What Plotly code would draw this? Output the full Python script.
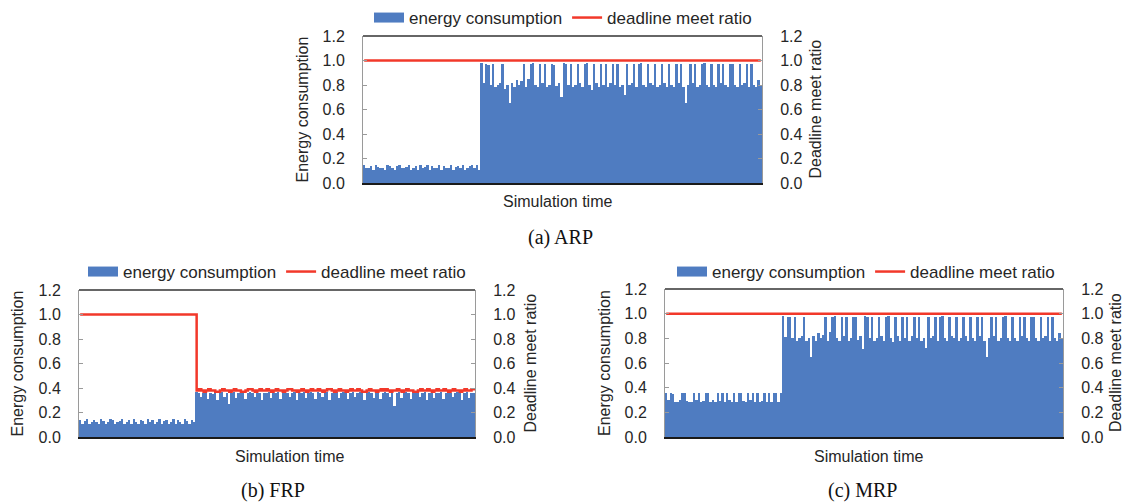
import plotly.graph_objects as go

# ---------------- data ----------------
arp_energy_low = [0.15, 0.12, 0.12, 0.14, 0.11, 0.15, 0.13, 0.12, 0.12, 0.11,
                  0.15, 0.14, 0.12, 0.11, 0.14, 0.15, 0.12, 0.12, 0.13, 0.15,
                  0.11, 0.12, 0.14, 0.11, 0.15, 0.12, 0.13, 0.15, 0.11, 0.14,
                  0.12, 0.12, 0.15, 0.11, 0.14, 0.12, 0.12, 0.15, 0.11, 0.13,
                  0.14, 0.12, 0.15, 0.11, 0.12, 0.14, 0.15, 0.12, 0.15, 0.11]
arp_energy_high = [0.98, 0.82, 0.97, 0.96, 0.80, 0.97, 0.78, 0.80, 0.82, 0.97,
                   0.77, 0.80, 0.65, 0.82, 0.78, 0.84, 0.80, 0.83, 0.97, 0.78,
                   0.85, 0.97, 0.98, 0.80, 0.78, 0.97, 0.82, 0.97, 0.78, 0.80,
                   0.97, 0.96, 0.79, 0.82, 0.70, 0.98, 0.97, 0.80, 0.97, 0.78,
                   0.80, 0.97, 0.82, 0.78, 0.97, 0.98, 0.80, 0.76, 0.97, 0.82,
                   0.78, 0.97, 0.80, 0.97, 0.78, 0.82, 0.97, 0.80, 0.97, 0.78,
                   0.80, 0.72, 0.97, 0.80, 0.82, 0.97, 0.78, 0.97, 0.98, 0.80,
                   0.78, 0.97, 0.82, 0.80, 0.97, 0.78, 0.80, 0.97, 0.82, 0.78,
                   0.97, 0.80, 0.78, 0.97, 0.82, 0.97, 0.78, 0.65, 0.80, 0.97,
                   0.82, 0.97, 0.78, 0.80, 0.97, 0.98, 0.80, 0.78, 0.97, 0.80,
                   0.78, 0.97, 0.82, 0.97, 0.80, 0.78, 0.97, 0.97, 0.80, 0.78,
                   0.97, 0.80, 0.82, 0.97, 0.78, 0.97, 0.80, 0.78, 0.84, 0.80]
arp_ratio = [1.0] * 170

frp_energy_low = [0.14, 0.11, 0.13, 0.15, 0.11, 0.12, 0.14, 0.12, 0.11, 0.15,
                  0.13, 0.11, 0.12, 0.15, 0.14, 0.11, 0.12, 0.13, 0.15, 0.11,
                  0.12, 0.14, 0.11, 0.15, 0.12, 0.11, 0.14, 0.13, 0.11, 0.15,
                  0.12, 0.14, 0.11, 0.12, 0.15, 0.11, 0.13, 0.14, 0.11, 0.12,
                  0.15, 0.11, 0.14, 0.12, 0.11, 0.15, 0.13, 0.11, 0.14, 0.12]
frp_energy_high = [0.37, 0.36, 0.33, 0.36, 0.37, 0.31, 0.36, 0.35, 0.37, 0.30,
                   0.36, 0.37, 0.33, 0.36, 0.27, 0.36, 0.37, 0.32, 0.36, 0.36,
                   0.37, 0.31, 0.36, 0.37, 0.36, 0.33, 0.37, 0.36, 0.30, 0.36,
                   0.36, 0.37, 0.32, 0.36, 0.36, 0.37, 0.31, 0.36, 0.37, 0.36,
                   0.33, 0.36, 0.37, 0.30, 0.36, 0.36, 0.37, 0.32, 0.36, 0.37,
                   0.36, 0.31, 0.37, 0.36, 0.33, 0.36, 0.37, 0.30, 0.36, 0.36,
                   0.37, 0.32, 0.36, 0.37, 0.36, 0.31, 0.36, 0.37, 0.33, 0.36,
                   0.37, 0.36, 0.30, 0.36, 0.37, 0.36, 0.32, 0.37, 0.36, 0.31,
                   0.36, 0.37, 0.36, 0.33, 0.36, 0.25, 0.36, 0.37, 0.32, 0.36,
                   0.37, 0.36, 0.31, 0.36, 0.37, 0.36, 0.33, 0.36, 0.37, 0.30,
                   0.36, 0.37, 0.32, 0.36, 0.36, 0.37, 0.31, 0.36, 0.37, 0.36,
                   0.33, 0.36, 0.37, 0.36, 0.30, 0.36, 0.37, 0.32, 0.36, 0.36]
frp_ratio_low = [1.0] * 50
frp_ratio_high = [0.38, 0.39, 0.38, 0.37, 0.38, 0.39, 0.38, 0.38, 0.37, 0.37,
                  0.38, 0.39, 0.38, 0.38, 0.37, 0.38, 0.39, 0.38, 0.38, 0.37,
                  0.37, 0.38, 0.39, 0.39, 0.38, 0.37, 0.38, 0.39, 0.38, 0.38,
                  0.39, 0.38, 0.37, 0.38, 0.39, 0.38, 0.38, 0.37, 0.38, 0.39,
                  0.39, 0.38, 0.38, 0.37, 0.38, 0.39, 0.38, 0.37, 0.38, 0.39,
                  0.38, 0.38, 0.39, 0.38, 0.37, 0.38, 0.39, 0.39, 0.38, 0.37,
                  0.38, 0.39, 0.38, 0.38, 0.37, 0.38, 0.39, 0.38, 0.38, 0.39,
                  0.38, 0.37, 0.37, 0.38, 0.39, 0.38, 0.38, 0.37, 0.38, 0.39,
                  0.38, 0.39, 0.38, 0.37, 0.38, 0.38, 0.39, 0.38, 0.37, 0.38,
                  0.39, 0.38, 0.38, 0.37, 0.37, 0.38, 0.39, 0.38, 0.38, 0.39,
                  0.38, 0.37, 0.38, 0.39, 0.38, 0.38, 0.39, 0.38, 0.37, 0.38,
                  0.39, 0.38, 0.38, 0.37, 0.38, 0.39, 0.38, 0.38, 0.39, 0.38]

mrp_energy_low = [0.36, 0.30, 0.36, 0.35, 0.28, 0.28, 0.30, 0.36, 0.36, 0.29,
                  0.28, 0.28, 0.36, 0.30, 0.36, 0.28, 0.29, 0.36, 0.36, 0.28,
                  0.30, 0.28, 0.36, 0.29, 0.36, 0.28, 0.36, 0.30, 0.28, 0.36,
                  0.28, 0.36, 0.36, 0.29, 0.28, 0.36, 0.30, 0.36, 0.28, 0.36,
                  0.28, 0.29, 0.36, 0.28, 0.36, 0.28, 0.36, 0.36, 0.28, 0.36]
mrp_energy_high = [0.98, 0.81, 0.97, 0.97, 0.80, 0.97, 0.78, 0.80, 0.82, 0.97,
                   0.78, 0.80, 0.65, 0.82, 0.78, 0.84, 0.80, 0.83, 0.97, 0.78,
                   0.85, 0.97, 0.98, 0.80, 0.78, 0.97, 0.82, 0.97, 0.78, 0.80,
                   0.97, 0.97, 0.79, 0.82, 0.71, 0.98, 0.97, 0.80, 0.97, 0.78,
                   0.80, 0.97, 0.82, 0.78, 0.97, 0.98, 0.80, 0.77, 0.97, 0.82,
                   0.78, 0.97, 0.80, 0.97, 0.78, 0.82, 0.97, 0.80, 0.97, 0.78,
                   0.80, 0.72, 0.97, 0.80, 0.82, 0.97, 0.78, 0.97, 0.98, 0.80,
                   0.78, 0.97, 0.82, 0.80, 0.97, 0.78, 0.80, 0.97, 0.82, 0.78,
                   0.97, 0.80, 0.78, 0.97, 0.82, 0.97, 0.78, 0.65, 0.80, 0.97,
                   0.82, 0.97, 0.78, 0.80, 0.97, 0.98, 0.80, 0.78, 0.97, 0.80,
                   0.78, 0.97, 0.82, 0.97, 0.80, 0.78, 0.97, 0.97, 0.80, 0.78,
                   0.97, 0.80, 0.82, 0.97, 0.78, 0.97, 0.80, 0.78, 0.84, 0.80]
mrp_ratio = [1.0] * 170

y_ticks = [0.0, 0.2, 0.4, 0.6, 0.8, 1.0, 1.2]
y_tick_text = ["0.0", "0.2", "0.4", "0.6", "0.8", "1.0", "1.2"]

panels = [
    dict(name="(a) ARP", energy=arp_energy_low + arp_energy_high, ratio=arp_ratio),
    dict(name="(b) FRP", energy=frp_energy_low + frp_energy_high, ratio=frp_ratio_low + frp_ratio_high),
    dict(name="(c) MRP", energy=mrp_energy_low + mrp_energy_high, ratio=mrp_ratio),
]

# ---------------- layout geometry (pixels) ----------------
W, H = 1125, 502
BLUE = "#4F7CC1"
RED = "#F2382A"
SANS = "Arial, Liberation Sans, Helvetica, sans-serif"
SERIF = "Times New Roman, Liberation Serif, serif"
TXT = "#262626"

geo = [
    dict(x0=363, x1=762, y0=36, y1=183, ltitle=302, rtitle=815, xt=557, xty=201, cap=(560, 237), leg=(369, 18)),
    dict(x0=79, x1=475, y0=290, y1=437, ltitle=17, rtitle=530, xt=289, xty=456, cap=(273, 490), leg=(83, 272)),
    dict(x0=665, x1=1063, y0=289, y1=437, ltitle=604, rtitle=1115, xt=868, xty=456, cap=(862, 490), leg=(672, 272)),
]

def px(x):
    return x / W

def py(y):
    return 1 - y / H

fig = go.Figure()
layout = dict(
    width=W, height=H, margin=dict(l=0, r=0, t=0, b=0, autoexpand=False),
    paper_bgcolor="white", plot_bgcolor="white",
    bargap=0, barmode="overlay", annotations=[], shapes=[],
)

for i, (p, g) in enumerate(zip(panels, geo)):
    k = i + 1
    xa = "x" if k == 1 else f"x{k}"
    ya = "y" if k == 1 else f"y{2*k-1}"
    ya2 = f"y{2*k}"
    leg = "legend" if k == 1 else f"legend{k}"
    n = len(p["energy"])
    xs = list(range(n))

    fig.add_trace(go.Bar(x=xs, y=p["energy"], xaxis=xa, yaxis=ya, marker=dict(color=BLUE, line=dict(width=0)),
                         showlegend=False, hoverinfo="skip"))
    fig.add_trace(go.Scatter(x=xs, y=p["ratio"], xaxis=xa, yaxis=ya2, mode="lines", line=dict(color=RED, width=2.5, shape="hv"),
                             showlegend=False, hoverinfo="skip"))
    # legend entries
    fig.add_trace(go.Scatter(x=[None], y=[None], xaxis=xa, yaxis=ya, mode="lines", name="energy consumption",
                             line=dict(color=BLUE, width=11), legend=leg))
    fig.add_trace(go.Scatter(x=[None], y=[None], xaxis=xa, yaxis=ya2, mode="lines", name="deadline meet ratio",
                             line=dict(color=RED, width=2.5), legend=leg))

    xkey = "xaxis" if k == 1 else f"xaxis{k}"
    ykey = "yaxis" if k == 1 else f"yaxis{2*k-1}"
    y2key = f"yaxis{2*k}"
    layout[xkey] = dict(domain=[px(g["x0"]), px(g["x1"])], anchor=ya, range=[-0.5, n - 0.5],
                        showticklabels=False, ticks="", showgrid=False, zeroline=False, automargin=False,
                        showline=True, linecolor="#1a1a1a", linewidth=2, fixedrange=True)
    common_y = dict(domain=[py(g["y1"]), py(g["y0"])], range=[0, 1.2], tickvals=y_ticks, ticktext=y_tick_text,
                    showgrid=False, zeroline=False, showline=True, linecolor="#9a9a9a", linewidth=1,
                    ticks="inside", ticklen=4, tickcolor="#9a9a9a", ticklabelstandoff=14, automargin=False,
                    tickfont=dict(family=SANS, size=16, color=TXT), fixedrange=True)
    layout[ykey] = dict(anchor=xa, side="left", **common_y)
    layout[y2key] = dict(anchor=xa, side="right", overlaying=ya, **common_y)

    layout[leg] = dict(orientation="h", x=px(g["leg"][0]), y=py(g["leg"][1]), xanchor="left", yanchor="middle",
                       font=dict(family=SANS, size=17, color=TXT), bgcolor="rgba(0,0,0,0)",
                       itemwidth=30, tracegroupgap=0, traceorder="normal")

    # top border of the plot frame
    layout["shapes"].append(dict(type="line", xref=f"{xa} domain", yref=f"{ya} domain", x0=0, x1=1, y0=1, y1=1,
                                 line=dict(color="#333333", width=1.5)))

    yc = (g["y0"] + g["y1"]) / 2
    layout["annotations"] += [
        dict(text="Energy consumption", x=px(g["ltitle"]), y=py(yc), xref="paper", yref="paper", textangle=-90,
             showarrow=False, font=dict(family=SANS, size=16, color=TXT), xanchor="center", yanchor="middle"),
        dict(text="Deadline meet ratio", x=px(g["rtitle"]), y=py(yc), xref="paper", yref="paper", textangle=-90,
             showarrow=False, font=dict(family=SANS, size=16, color=TXT), xanchor="center", yanchor="middle"),
        dict(text="Simulation time", x=px(g["xt"]), y=py(g["xty"]), xref="paper", yref="paper",
             showarrow=False, font=dict(family=SANS, size=16, color=TXT), xanchor="center", yanchor="middle"),
        dict(text=p["name"], x=px(g["cap"][0]), y=py(g["cap"][1]), xref="paper", yref="paper",
             showarrow=False, font=dict(family=SERIF, size=20, color="#111111"), xanchor="center", yanchor="middle"),
    ]

fig.update_layout(**layout)
fig.write_html("out.html", config={"displayModeBar": False},
               post_script="document.body.style.margin='0';document.body.style.overflow='hidden';")
